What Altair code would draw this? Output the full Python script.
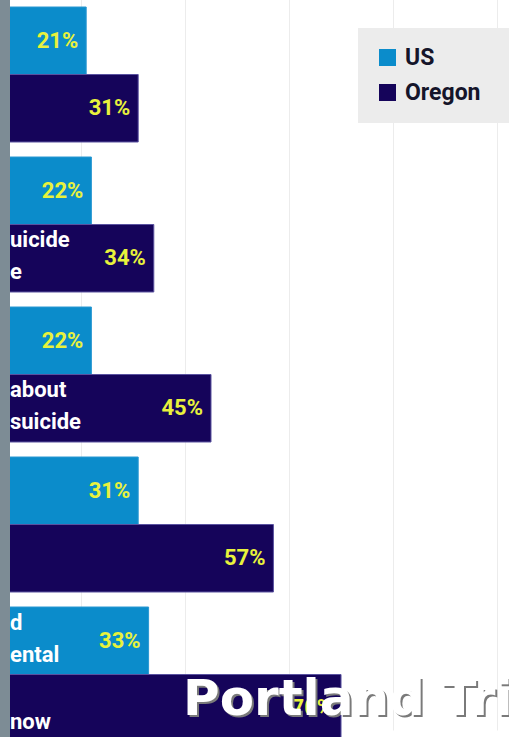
import altair as alt
import pandas as pd

categories = ["Q1", "Q2", "Q3", "Q4", "Q5"]
series = ["US", "Oregon"]
us_values = [21, 22, 22, 31, 33]
oregon_values = [31, 34, 45, 57, 70]
us_notes = ["", "", "", "", "d\nental"]
oregon_notes = ["", "uicide\ne", "\u00a0about\nsuicide", "", " \nnow"]
colors = ["#0b8ccb", "#15045a"]
watermark = "Portland Tri"

rows = []
for i, c in enumerate(categories):
    rows.append(dict(cat=c, series="US", value=us_values[i],
                     label=f"{us_values[i]}%", note=us_notes[i]))
    rows.append(dict(cat=c, series="Oregon", value=oregon_values[i],
                     label=f"{oregon_values[i]}%", note=oregon_notes[i]))
df = pd.DataFrame(rows)

FONT = "Roboto, Liberation Sans, sans-serif"

y = alt.Y("cat:N", sort=categories, axis=None,
          scale=alt.Scale(range=[7, 742], paddingInner=0.1, paddingOuter=0))
yoff = alt.YOffset("series:N", sort=series,
                   scale=alt.Scale(domain=series, paddingInner=0, paddingOuter=0))
xscale = alt.Scale(domain=[6.35, 102.3], nice=False, zero=False)

base = alt.Chart(df)

bars = base.mark_bar(clip=True, strokeWidth=1).encode(
    x=alt.X("value:Q", scale=xscale,
            axis=alt.Axis(values=[20, 40, 60, 80, 100], grid=True, gridColor="#ececec",
                          gridWidth=1, labels=False, ticks=False, domain=False, title=None)),
    x2=alt.X2(datum=0),
    y=y,
    yOffset=yoff,
    color=alt.Color("series:N", scale=alt.Scale(domain=series, range=colors),
                    legend=alt.Legend(orient="none", legendX=348, legendY=28,
                                      title="\u2003\u2003", titleOrient="right",
                                      titleFontSize=12, titlePadding=20,
                                      fillColor="#ececec", padding=18,
                                      symbolType="square", symbolSize=289, symbolStrokeWidth=0,
                                      labelFont=FONT, labelFontSize=23, labelFontWeight="bold",
                                      labelColor="#15152a", labelOffset=6, rowPadding=11)),
    stroke=alt.Stroke("series:N", scale=alt.Scale(domain=series, range=["#2a98d2", "#5a52a0"]),
                      legend=None),
)

pct = base.mark_text(align="right", baseline="middle", dx=-8, fontSize=22, fontWeight="bold",
                     font=FONT, color="#e8f23c", clip=True).encode(
    x=alt.X("value:Q", scale=xscale),
    y=y,
    yOffset=yoff,
    text="label:N",
)

notes = base.mark_text(align="left", baseline="middle", lineBreak="\n", lineHeight=32, dy=-18,
                       fontSize=22, fontWeight="bold", font=FONT, color="white",
                       clip=True).encode(
    x=alt.value(0),
    y=y,
    yOffset=yoff,
    text="note:N",
)

wm_df = pd.DataFrame({"t": [watermark]})
wm_shadow = alt.Chart(wm_df).mark_text(align="left", baseline="alphabetic", fontSize=50,
                                       fontWeight="bold", font="DejaVu Sans", color="#7a7a7a",
                                       dx=2, dy=2, clip=True).encode(
    x=alt.value(173), y=alt.value(715), text="t:N")
wm = alt.Chart(wm_df).mark_text(align="left", baseline="alphabetic", fontSize=50,
                                fontWeight="bold", font="DejaVu Sans", color="white",
                                clip=True).encode(
    x=alt.value(173), y=alt.value(715), text="t:N")

chart = alt.layer(bars, pct, notes, wm_shadow, wm).properties(
    width=499, height=737,
    padding={"left": 10, "top": 0, "right": 0, "bottom": 0},
    autosize=alt.AutoSizeParams(type="none"),
    background="#7d8c95",
).configure_view(fill="white", stroke=None)

chart.save("out.html", embed_options={"renderer": "svg", "actions": False})
